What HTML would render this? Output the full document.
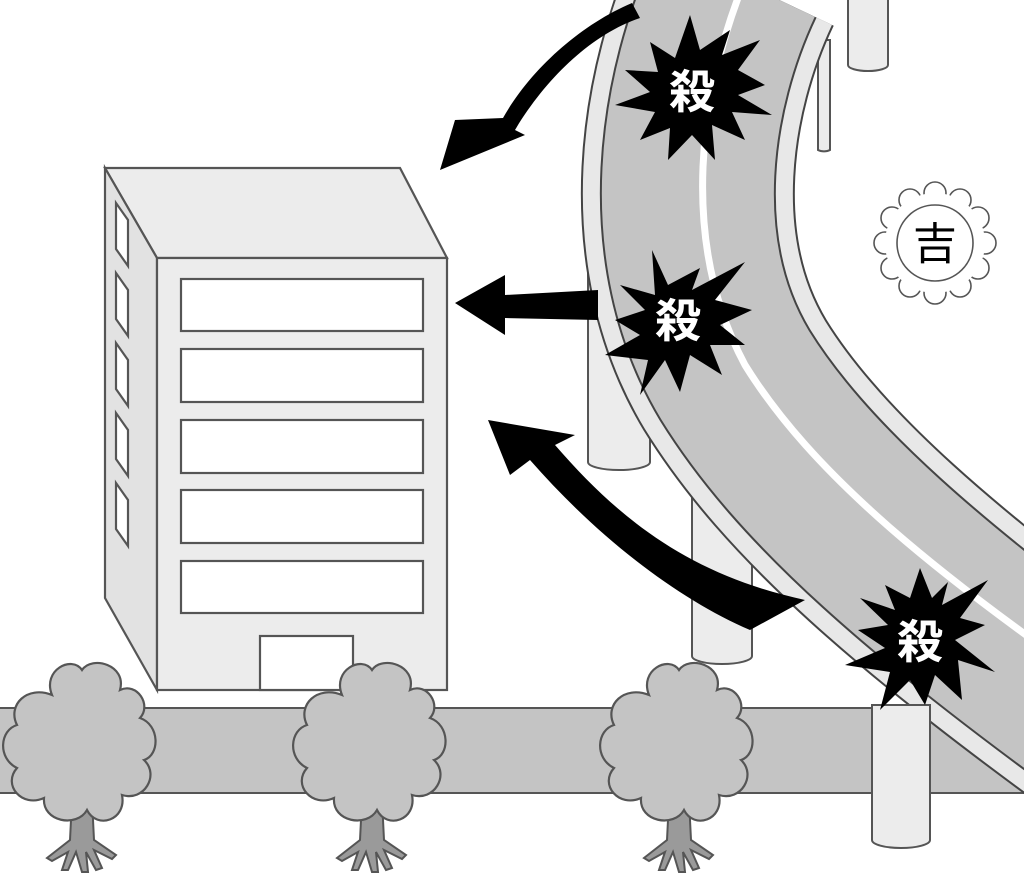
<!DOCTYPE html>
<html><head><meta charset="utf-8"><style>
html,body{margin:0;padding:0;background:#fff;width:1024px;height:895px;overflow:hidden}
svg{display:block}
</style></head><body>
<svg width="1024" height="895" viewBox="0 0 1024 895" xmlns="http://www.w3.org/2000/svg">
<defs>
<g id="tree">
  <path d="M-10 60 L-12 100 L-35 118 L-30 121 L-14 112 L-20 130 L-14 130 L-6 112 L0 132 L6 132 L4 112 L14 130 L20 128 L12 110 L30 119 L34 115 L12 100 L10 60 Z" fill="#9a9a9a" stroke="#555" stroke-width="2"/>
  <path d="M-30 -45 C-40 -70 -10 -85 0 -70 C10 -85 45 -75 38 -50 C55 -58 70 -35 58 -22 C78 -15 78 15 62 20 C78 35 62 62 40 55 C45 80 15 90 5 70 C-5 88 -40 82 -38 58 C-60 68 -80 45 -65 28 C-85 18 -82 -10 -65 -15 C-75 -35 -55 -55 -30 -45 Z" fill="#c4c4c4" stroke="#555" stroke-width="2.2"/>
</g>
</defs>

<rect x="-5" y="708" width="1040" height="85" fill="#c4c4c4" stroke="#555" stroke-width="2"/>

<g fill="#ececec" stroke="#555" stroke-width="2">
  <path d="M848 -5 L848 65 A20 6 0 0 0 888 65 L888 -5 Z"/>
  <path d="M818 40 L818 150 A8 4 0 0 0 830 150 L830 40 Z"/>
  <path d="M588 250 L588 462 A31 8 0 0 0 650 462 L650 250 Z"/>
  <path d="M692 440 L692 656 A30 8 0 0 0 752 656 L752 440 Z"/>
</g>

<g fill="none">
  <path d="M737 -20 C685 90 660 250 735 375 C800 480 920 590 1160 760" stroke="#444" stroke-width="214"/>
  <path d="M737 -20 C685 90 660 250 735 375 C800 480 920 590 1160 760" stroke="#e8e8e8" stroke-width="210"/>
  <path d="M737 -20 C685 90 660 250 735 375 C800 480 920 590 1160 760" stroke="#444" stroke-width="176"/>
  <path d="M737 -20 C685 90 660 250 735 375 C800 480 920 590 1160 760" stroke="#c4c4c4" stroke-width="172"/>
  <path d="M745 -20 C700 90 678 240 745 365 C810 470 930 575 1170 735" stroke="#fff" stroke-width="7"/>
</g>

<path d="M872 705 L872 840 A29 8 0 0 0 930 840 L930 705 Z" fill="#ececec" stroke="#555" stroke-width="2"/>

<g stroke="#555" stroke-width="2.2">
  <polygon points="105,168 400,168 447,258 157,258" fill="#ececec"/>
  <polygon points="105,168 157,258 157,690 105,598" fill="#e2e2e2"/>
  <rect x="157" y="258" width="290" height="432" fill="#ececec"/>
  <g fill="#fff">
    <rect x="181" y="279" width="242" height="52"/>
    <rect x="181" y="349" width="242" height="53"/>
    <rect x="181" y="420" width="242" height="53"/>
    <rect x="181" y="490" width="242" height="53"/>
    <rect x="181" y="561" width="242" height="52"/>
    <rect x="260" y="636" width="93" height="54"/>
    <polygon points="116,203 128,220 128,266 116,249"/>
    <polygon points="116,273 128,290 128,336 116,319"/>
    <polygon points="116,343 128,360 128,406 116,389"/>
    <polygon points="116,413 128,430 128,476 116,459"/>
    <polygon points="116,483 128,500 128,546 116,529"/>
  </g>
</g>

<use href="#tree" x="82" y="740"/>
<use href="#tree" x="372" y="740"/>
<use href="#tree" x="679" y="740"/>

<g fill="#000">
  <path d="M632 3 C580 25 530 70 503 118 L455 120 L440 170 L525 135 L515 130 C545 80 590 35 640 18 Z"/>
  <path d="M598 290 L505 295 L505 275 L455 303 L505 335 L505 318 L598 320 Z"/>
  <path d="M805 600 C690 575 620 520 555 445 L575 435 L488 420 L510 475 L530 460 C600 540 680 600 750 630 Z"/>
</g>

<g fill="#000">
  <polygon points="690,15 700,50 730,30 722,55 760,40 738,70 765,85 738,95 772,115 732,112 745,140 712,125 715,160 692,135 668,160 670,128 640,140 655,112 615,105 650,92 625,70 658,72 650,42 675,58"/>
  <polygon points="652,250 668,285 700,268 692,290 745,262 715,300 752,310 720,325 745,345 710,345 722,375 690,355 680,392 665,360 640,395 648,360 605,355 640,335 615,320 645,310 620,285 655,295"/>
  <polygon points="920,568 932,598 948,582 942,605 988,580 960,618 985,625 955,640 995,672 958,660 962,700 935,675 925,705 910,680 880,710 890,672 845,665 885,648 858,630 888,625 860,598 895,610 885,585 910,598"/>
</g>
<g font-family="'Liberation Sans','Noto Sans CJK JP',sans-serif" font-weight="bold" fill="#fff" text-anchor="middle" font-size="46">
  <text x="692" y="108">殺</text>
  <text x="678" y="337">殺</text>
  <text x="920" y="658">殺</text>
</g>

<g stroke="#555" stroke-width="1.6" fill="#fff">
  <circle cx="935" cy="193" r="11"/><circle cx="960" cy="200" r="11"/><circle cx="978" cy="218" r="11"/><circle cx="985" cy="243" r="11"/><circle cx="978" cy="268" r="11"/><circle cx="960" cy="286" r="11"/><circle cx="935" cy="293" r="11"/><circle cx="910" cy="286" r="11"/><circle cx="892" cy="268" r="11"/><circle cx="885" cy="243" r="11"/><circle cx="892" cy="218" r="11"/><circle cx="910" cy="200" r="11"/>
  <circle cx="935" cy="243" r="50" stroke="none"/>
  <circle cx="935" cy="243" r="38"/>
</g>
<text x="935" y="259" font-family="'Liberation Sans','Noto Sans CJK JP',sans-serif" font-size="44" text-anchor="middle" fill="#000">吉</text>
</svg>
</body></html>
